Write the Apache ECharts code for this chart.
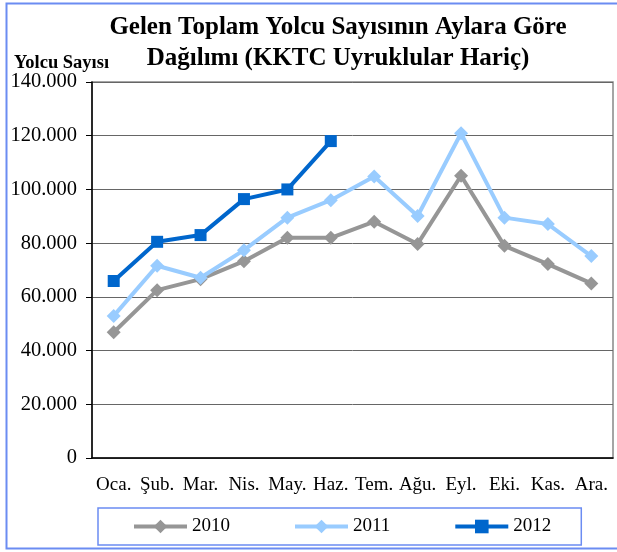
<!DOCTYPE html>
<html>
<head>
<meta charset="utf-8">
<script src="https://cdn.jsdelivr.net/npm/echarts@6/dist/echarts.min.js"></script>
<style>
    html, body { margin: 0; padding: 0; background: #fff; }
    #chart { width: 617px; height: 552px; }
</style>
</head>
<body>
<div id="chart"></div>
<script>
var months = ["Oca.", "Şub.", "Mar.", "Nis.", "May.", "Haz.", "Tem.", "Ağu.", "Eyl.", "Eki.", "Kas.", "Ara."];
var years = ["2010", "2011", "2012"];
var values2010 = [46800, 62500, 66600, 73300, 82000, 82000, 88000, 79700, 105100, 79000, 72200, 65000];
var values2011 = [52900, 71600, 67100, 77400, 89500, 96000, 104800, 90100, 120900, 89500, 87100, 75200];
var values2012 = [65900, 80500, 83000, 96400, 100000, 118000];
var yTicks = [0, 20000, 40000, 60000, 80000, 100000, 120000, 140000];

var serif = "'Liberation Serif', 'Times New Roman', serif";
var mychart = echarts.init(document.getElementById("chart"));

var option = {
    backgroundColor: "#fff",
    animation: false,
    title: [
        {
            text: "Gelen Toplam Yolcu Sayısının Aylara Göre\nDağılımı (KKTC Uyruklular Hariç)",
            left: 333,
            top: 7,
            textAlign: "center",
            textStyle: {
                fontFamily: serif,
                fontWeight: "bold",
                fontSize: 25,
                lineHeight: 31,
                color: "#000",
            },
        },
        {
            text: "Yolcu Sayısı",
            left: 9,
            top: 49,
            textStyle: {
                fontFamily: serif,
                fontWeight: "bold",
                fontSize: 18.5,
                color: "#000",
            },
        },
    ],
    graphic: [
        {
            type: "rect",
            shape: { x: 6.5, y: 3.5, width: 640, height: 545 },
            style: { fill: "none", stroke: "#6b8cf2", lineWidth: 2 },
            silent: true,
        },
    ],
    grid: {
        left: 92,
        right: 4,
        top: 82,
        bottom: 94,
        show: true,
        borderColor: "#888",
        borderWidth: 1.5,
    },
    legend: {
        left: 98,
        top: 508,
        padding: [9, 30, 9, 34],
        itemGap: 63,
        itemWidth: 53,
        itemHeight: 17,
        borderColor: "#6b8cf2",
        borderWidth: 1.5,
        lineStyle: { width: 4 },
        textStyle: {
            fontFamily: serif,
            fontSize: 19,
            color: "#000",
        },
        data: years,
    },
    xAxis: {
        type: "category",
        data: months,
        boundaryGap: true,
        axisLine: { lineStyle: { color: "#000", width: 1.5 } },
        axisTick: { show: false },
        axisLabel: {
            margin: 18,
            fontFamily: serif,
            fontSize: 19,
            color: "#000",
            interval: 0,
        },
    },
    yAxis: {
        type: "value",
        min: yTicks[0],
        max: yTicks[yTicks.length - 1],
        interval: 20000,
        axisLine: { show: true, lineStyle: { color: "#000", width: 1.5 } },
        axisTick: { show: true, length: 6, lineStyle: { color: "#000" } },
        splitLine: { lineStyle: { color: "#666", width: 1 } },
        axisLabel: {
            margin: 15,
            fontFamily: serif,
            fontSize: 20.5,
            color: "#000",
            formatter: function (v) {
                return v === 0 ? "0" : v / 1000 + ".000";
            },
        },
    },
    series: [
        {
            name: "2010",
            type: "line",
            data: values2010,
            symbol: "diamond",
            symbolSize: 14,
            lineStyle: { color: "#969696", width: 4 },
            itemStyle: { color: "#969696" },
        },
        {
            name: "2011",
            type: "line",
            data: values2011,
            symbol: "diamond",
            symbolSize: 14,
            lineStyle: { color: "#99ccff", width: 4 },
            itemStyle: { color: "#99ccff" },
        },
        {
            name: "2012",
            type: "line",
            data: values2012,
            symbol: "rect",
            symbolSize: 12,
            lineStyle: { color: "#0066cc", width: 4 },
            itemStyle: { color: "#0066cc" },
        },
    ],
};

mychart.setOption(option);
</script>
</body>
</html>
